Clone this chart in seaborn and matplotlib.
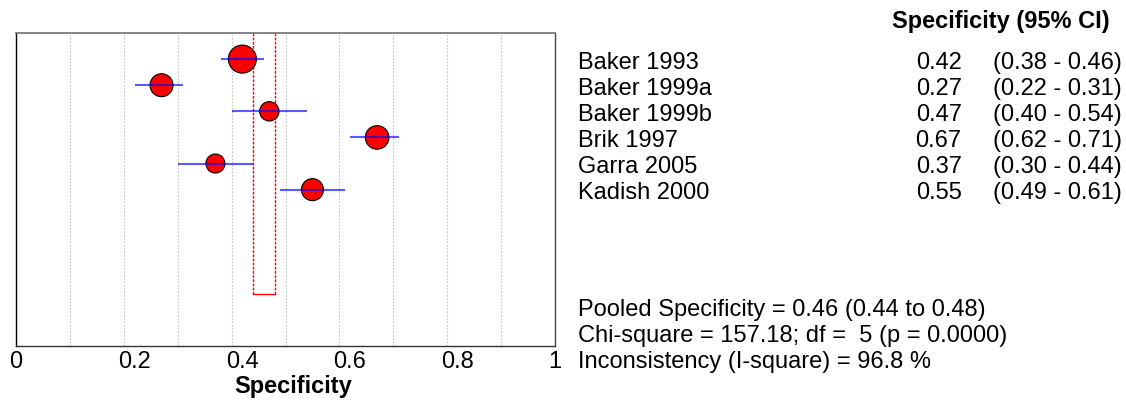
import numpy as np
import pandas as pd
import matplotlib
matplotlib.use("Agg")
import matplotlib.pyplot as plt
import matplotlib.transforms as mtransforms
import seaborn as sns

# ---------------- data ----------------
studies = ["Baker 1993", "Baker 1999a", "Baker 1999b", "Brik 1997", "Garra 2005", "Kadish 2000"]
spec = [0.42, 0.27, 0.47, 0.67, 0.37, 0.55]
ci_low = [0.38, 0.22, 0.40, 0.62, 0.30, 0.49]
ci_high = [0.46, 0.31, 0.54, 0.71, 0.44, 0.61]
weights = [25.4, 17.1, 12.1, 18.0, 11.7, 15.7]   # relative study weight (%)

pooled = 0.46
pooled_low = 0.44
pooled_high = 0.48
chi_square = 157.18
dof = 5
p_value = 0.0000
i_square = 96.8

xticks = [0, 0.2, 0.4, 0.6, 0.8, 1]
xtick_labels = ["0", "0.2", "0.4", "0.6", "0.8", "1"]
grid_positions = [0.1, 0.2, 0.3, 0.4, 0.5, 0.6, 0.7, 0.8, 0.9]

# ---------------- style ----------------
sns.set_style("white")
plt.rcParams["font.family"] = ["Liberation Sans", "DejaVu Sans"]
plt.rcParams["text.color"] = "black"
plt.rcParams["axes.labelcolor"] = "black"
plt.rcParams["xtick.color"] = "black"
FS = 17

W, H = 1126, 402
fig = plt.figure(figsize=(W / 100, H / 100), dpi=100)
ax = fig.add_axes([16 / W, 54.7 / H, 539 / W, 313.3 / H])

rows = np.arange(1, len(studies) + 1)
df = pd.DataFrame({"study": studies, "spec": spec, "lo": ci_low, "hi": ci_high,
                   "w": weights, "row": rows})

# grid lines
for g in grid_positions:
    ax.axvline(g, color="#c4c4c4", lw=0.8, ls=(0, (1.5, 1.5)), zorder=0)

# pooled box
for xv in (pooled_low, pooled_high):
    ax.plot([xv, xv], [0, 10], color="#ff0000", lw=1.0, ls=(0, (2, 1)), zorder=1)
ax.plot([pooled_low, pooled_high], [10, 10], color="#ff0000", lw=1.0, zorder=1)

# study markers
sns.scatterplot(data=df, x="spec", y="row", size="w",
                sizes=(min(weights) * 16, max(weights) * 16),
                color="red", edgecolor="black", linewidth=0.8,
                legend=False, ax=ax, zorder=2)

# confidence intervals
ax.hlines(df["row"], df["lo"], df["hi"], colors="#0000ff", alpha=0.65, lw=1.5, zorder=3)

ax.set_xlim(0, 1)
ax.set_ylim(12, 0)
ax.set_yticks([])
ax.set_ylabel("")
ax.set_xticks(xticks)
ax.set_xticklabels(xtick_labels, fontsize=FS)
ax.tick_params(axis="x", length=0, pad=2.7, colors="black")

# shift decimal tick labels slightly right, as in the reference
offset = mtransforms.ScaledTranslation(10.5 / 100, 0, fig.dpi_scale_trans)
for tick in ax.xaxis.get_major_ticks():
    if "." in tick.label1.get_text():
        tick.label1.set_transform(tick.label1.get_transform() + offset)

ax.set_xlabel("Specificity", fontsize=FS, fontweight="bold", color="black")
ax.xaxis.label.set_va("baseline")
ax.xaxis.set_label_coords(0.515, (9.3 - 54.7) / 313.3)

for side, col, lw in [("left", "black", 1.0), ("bottom", "#333333", 1.0),
                      ("top", "#707070", 1.2), ("right", "#444444", 1.0)]:
    ax.spines[side].set_visible(True)
    ax.spines[side].set_color(col)
    ax.spines[side].set_linewidth(lw)

# ---------------- right-hand text table ----------------
base = mtransforms.blended_transform_factory(fig.transFigure, ax.transData)
row_tr = mtransforms.offset_copy(base, fig=fig, y=-8.8, units="dots")

fig.text(1110 / W, 1 - 28.3 / H, "Specificity (95% CI)", fontsize=FS,
         fontweight="bold", ha="right", va="baseline", color="black")

for _, r in df.iterrows():
    fig.text(578 / W, r["row"], r["study"], fontsize=FS, ha="left", va="baseline",
             transform=row_tr, color="black")
    fig.text(961.7 / W, r["row"], f"{r['spec']:.2f}", fontsize=FS, ha="right",
             va="baseline", transform=row_tr, color="black")
    fig.text(992.7 / W, r["row"], f"({r['lo']:.2f} - {r['hi']:.2f})", fontsize=FS,
             ha="left", va="baseline", transform=row_tr, color="black")

footer = [
    f"Pooled Specificity = {pooled:.2f} ({pooled_low:.2f} to {pooled_high:.2f})",
    f"Chi-square = {chi_square:.2f}; df =  {dof} (p = {p_value:.4f})",
    f"Inconsistency (I-square) = {i_square:.1f} %",
]
for i, line in enumerate(footer):
    fig.text(578 / W, 1 - (315.7 + 26.3 * i) / H, line, fontsize=FS,
             ha="left", va="baseline", color="black")

fig.savefig("out.png", dpi=100)
